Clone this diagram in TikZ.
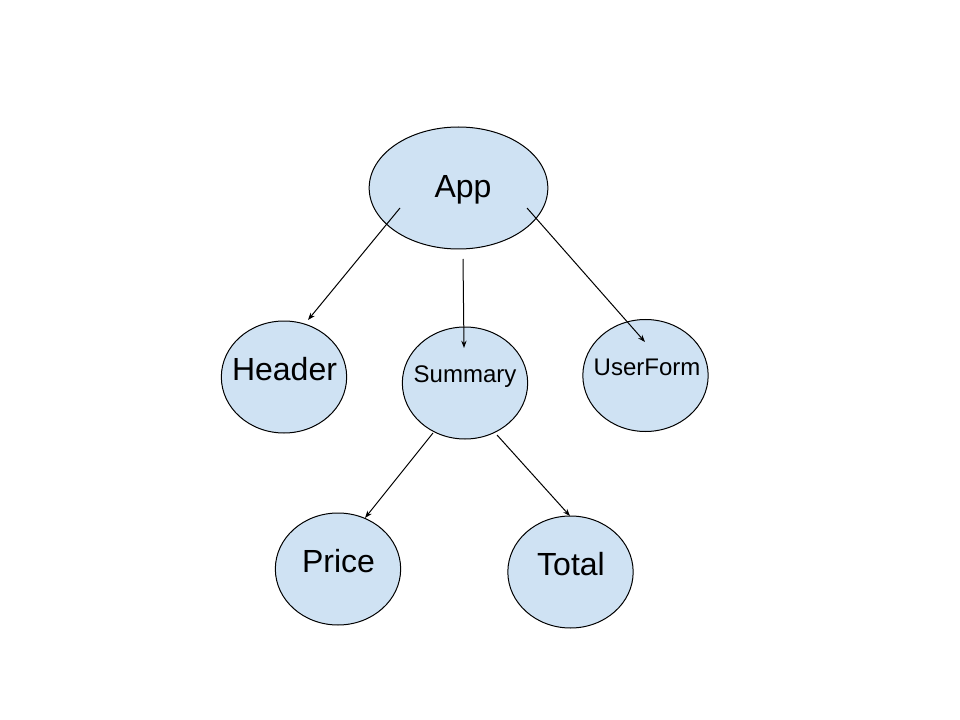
\documentclass[tikz,border=0pt]{standalone}
\usepackage{fontspec}
\setmainfont{Liberation Sans}
\usetikzlibrary{shapes.geometric,arrows.meta,calc}
\definecolor{blobfill}{HTML}{CFE2F3}
\tikzset{
  blob/.style={ellipse, draw=black, fill=blobfill, line width=0.75pt, inner sep=0pt, minimum width=94pt, minimum height=84pt},
  bigblob/.style={blob, minimum width=134pt, minimum height=91.5pt},
  biglbl/.style={anchor=base, inner sep=0pt, font=\fontsize{24}{29}\selectfont},
  smalllbl/.style={anchor=base, inner sep=0pt, font=\fontsize{18}{22}\selectfont},
  arr/.style={line width=0.75pt, -{Stealth[length=5.5pt,width=4pt]}}
}
\begin{document}
\begin{tikzpicture}[x=0.75pt,y=-0.75pt]
\useasboundingbox (0,0) rectangle (960,720);
\fill[white] (0,0) rectangle (960,720);
% ellipses
\node[bigblob] (app) at (458.5,188) {};
\node[blob] (hdr) at (284,377) {};
\node[blob] (sum) at (465,383) {};
\node[blob] (usr) at (645.5,375.5) {};
\node[blob] (prc) at (338,569) {};
\node[blob] (tot) at (570.5,572) {};
% labels
\node[biglbl] (appt) at (463,198) {App};
\node[biglbl] (hdrt) at (284.5,380.5) {Header};
\node[smalllbl] (sumt) at (465,382.3) {Summary};
\node[smalllbl] (usrt) at (647,375) {UserForm};
\node[biglbl] (prct) at (338.5,572.5) {Price};
\node[biglbl] (tott) at (571,575) {Total};
% connectors
\draw[arr] ($(app)+(-58.5,20)$) -- ($(hdr)+(24,-57)$);
\draw[arr] ($(app)+(4.5,71)$) -- ($(sum)+(-1,-35)$);
\draw[arr] ($(app)+(68.5,20)$) -- ($(usr)+(-0.5,-33.5)$);
\draw[arr] ($(sum)+(-32,50)$) -- ($(prc)+(27,-51)$);
\draw[arr] ($(sum)+(32,52)$) -- ($(tot)+(-0.5,-56)$);
\end{tikzpicture}
\end{document}
